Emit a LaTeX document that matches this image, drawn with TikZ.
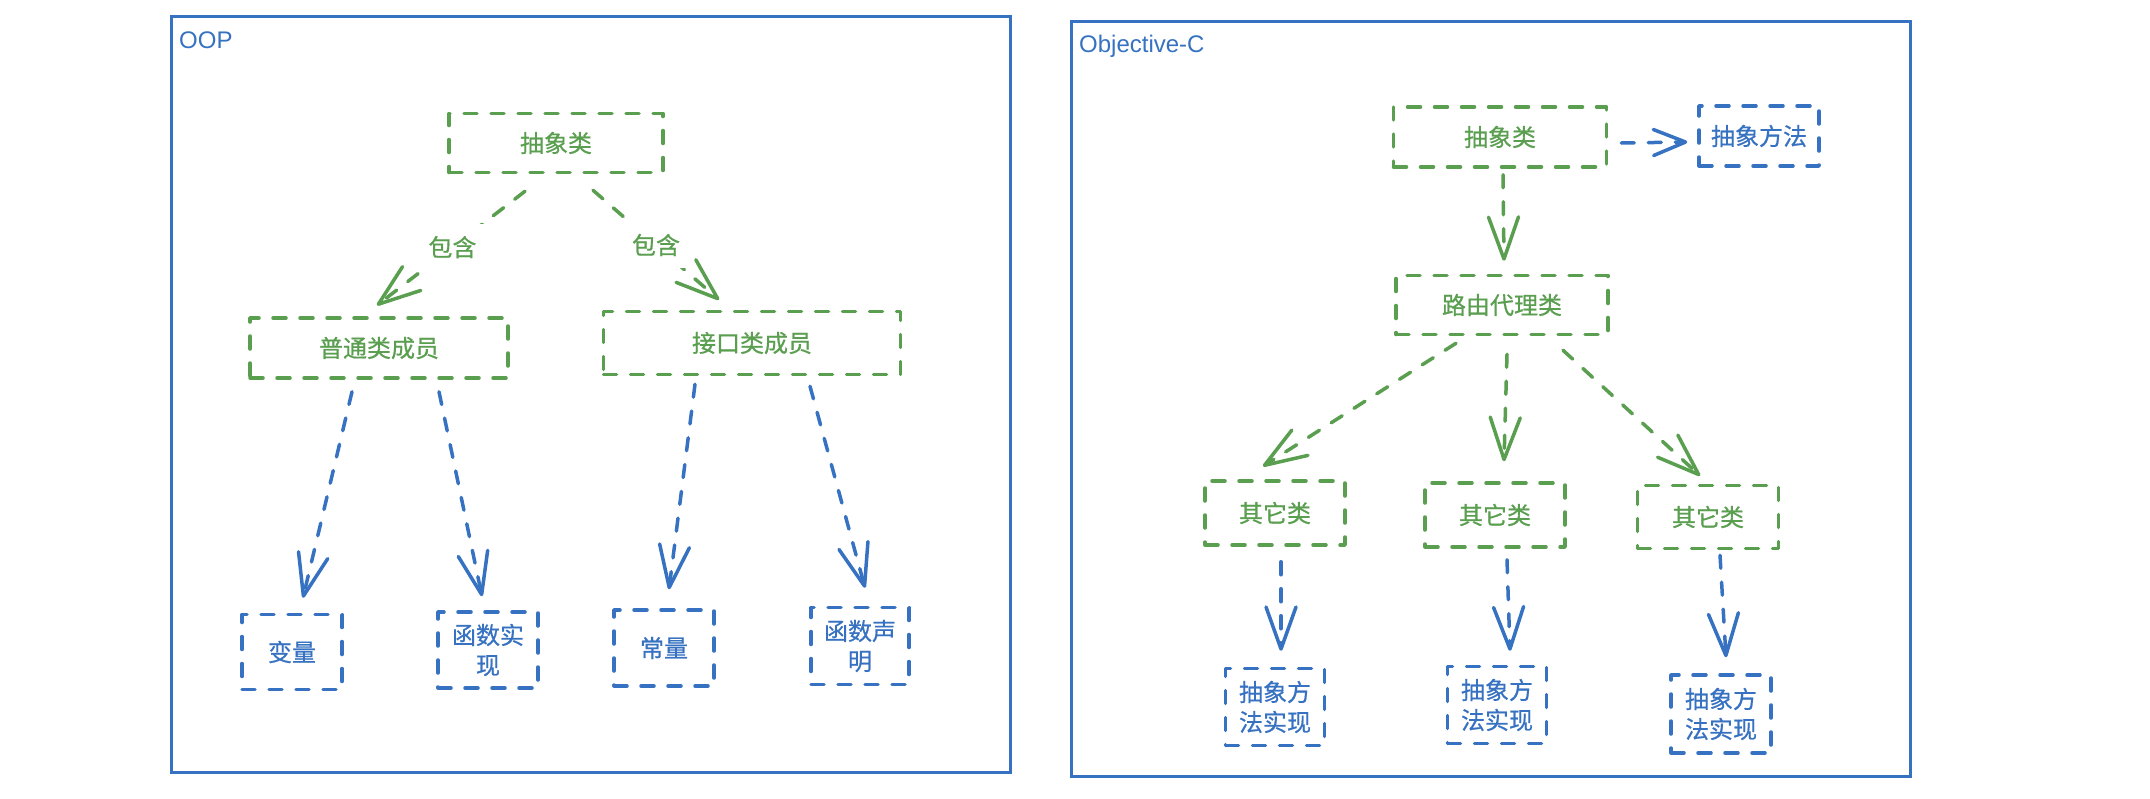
\documentclass[tikz,border=0pt]{standalone}
\usepackage{fontspec}
\setmainfont{Liberation Sans}
\newfontfamily\cjk[FakeBold=0.6]{Noto Sans CJK SC}
\usetikzlibrary{arrows.meta}
\definecolor{gr}{HTML}{5A9E4F}
\definecolor{bl}{HTML}{3672C1}
\tikzset{
  sketchdash/.style={line width=3.5pt, line cap=round, line join=round, dash pattern=on 13pt off 14pt},
  gbox/.style={sketchdash, draw=gr, text=gr, rectangle, inner sep=0pt, font=\cjk\fontsize{24}{30}\selectfont, align=center},
  bbox/.style={sketchdash, draw=bl, text=bl, rectangle, inner sep=0pt, font=\cjk\fontsize{24}{30}\selectfont, align=center},
  garrow/.style={sketchdash, draw=gr, -{Straight Barb[length=42pt,width=30pt,round]}},
  barrow/.style={sketchdash, draw=bl, -{Straight Barb[length=42pt,width=30pt,round]}},
  frame/.style={draw=bl, line width=3pt, rectangle, inner sep=0pt},
  glabel/.style={text=gr, fill=white, inner sep=12pt, font=\cjk\fontsize{24}{30}\selectfont},
  title/.style={text=bl, anchor=base west, inner sep=0pt, font=\fontsize{24}{28}\selectfont}
}
\begin{document}
\begin{tikzpicture}[x=1pt,y=-1pt]
\useasboundingbox (0,0) rectangle (2150,798);
\fill[white] (0,0) rectangle (2150,798);

% frames
\node[frame, minimum width=839pt, minimum height=756pt] (frameL) at (590.5,394) {};
\node[frame, minimum width=839pt, minimum height=755pt] (frameR) at (1490.5,398.5) {};
\node[title] (oop) at (179,48) {OOP};
\node[title] (objc) at (1079,52) {Objective-C};

% left panel
\node[gbox, minimum width=214pt, minimum height=59pt] (LA) at (556,143) {抽象类};
\node[gbox, minimum width=258pt, minimum height=60pt] (LN) at (379,348) {普通类成员};
\node[gbox, minimum width=297pt, minimum height=63pt] (LI) at (752,343) {接口类成员};
\node[bbox, minimum width=100pt, minimum height=75pt] (LV) at (292,652) {变量};
\node[bbox, minimum width=100pt, minimum height=76pt] (LF) at (488,650) {函数实\\现};
\node[bbox, minimum width=100pt, minimum height=76pt] (LC) at (664,648) {常量};
\node[bbox, minimum width=98pt, minimum height=77pt] (LD) at (860,646) {函数声\\明};

\draw[garrow] ([xshift=-31pt,yshift=-17pt]LA.south) -- node[glabel, pos=0.49] (c1) {包含} ([xshift=-2pt,yshift=11pt]LN.north);
\draw[garrow] ([xshift=37pt,yshift=-16pt]LA.south) -- node[glabel, pos=0.5] (c2) {包含} ([xshift=-33pt,yshift=10pt]LI.north);

\draw[barrow] ([xshift=-27pt,yshift=-12pt]LN.south) -- ([xshift=11pt,yshift=15pt]LV.north);
\draw[barrow] ([xshift=60pt,yshift=-12pt]LN.south) -- ([xshift=-6pt,yshift=14pt]LF.north);
\draw[barrow] ([xshift=-57pt,yshift=-8pt]LI.south) -- ([xshift=5pt,yshift=19pt]LC.north);
\draw[barrow] ([xshift=58pt,yshift=-10pt]LI.south) -- ([xshift=5pt,yshift=18pt]LD.north);

% right panel
\node[gbox, minimum width=213pt, minimum height=60pt] (RA) at (1500,137) {抽象类};
\node[bbox, minimum width=120pt, minimum height=60pt] (RM) at (1759,136) {抽象方法};
\node[gbox, minimum width=212pt, minimum height=59pt] (RR) at (1502,305) {路由代理类};
\node[gbox, minimum width=140pt, minimum height=64pt] (O1) at (1275,513) {其它类};
\node[gbox, minimum width=140pt, minimum height=64pt] (O2) at (1495,515) {其它类};
\node[gbox, minimum width=141pt, minimum height=63pt] (O3) at (1708,517) {其它类};
\node[bbox, minimum width=99pt, minimum height=77pt] (I1) at (1275,707) {抽象方\\法实现};
\node[bbox, minimum width=99pt, minimum height=77pt] (I2) at (1497,705) {抽象方\\法实现};
\node[bbox, minimum width=100pt, minimum height=78pt] (I3) at (1721,714) {抽象方\\法实现};

\draw[sketchdash, draw=bl, -{Straight Barb[length=32pt,width=26pt,round]}] ([xshift=13pt,yshift=-6pt]RA.east) -- ([xshift=-10pt,yshift=-6pt]RM.west);
\draw[garrow] ([xshift=3pt,yshift=-6pt]RA.south) -- ([xshift=2pt,yshift=13pt]RR.north);

\draw[garrow] ([xshift=-46pt,yshift=-7pt]RR.south) -- ([xshift=-12pt,yshift=13pt]O1.north);
\draw[garrow] ([xshift=5pt,yshift=-18pt]RR.south) -- ([xshift=9pt,yshift=20pt]O2.north);
\draw[garrow] ([xshift=61pt,yshift=-14pt]RR.south) -- ([xshift=-8pt,yshift=8pt]O3.north);

\draw[barrow] ([xshift=6pt,yshift=-15pt]O1.south) -- ([xshift=6pt,yshift=16pt]I1.north);
\draw[barrow] ([xshift=12pt,yshift=-11pt]O2.south) -- ([xshift=13pt,yshift=14pt]I2.north);
\draw[barrow] ([xshift=12pt,yshift=-5pt]O3.south) -- ([xshift=5pt,yshift=16pt]I3.north);
\end{tikzpicture}
\end{document}
